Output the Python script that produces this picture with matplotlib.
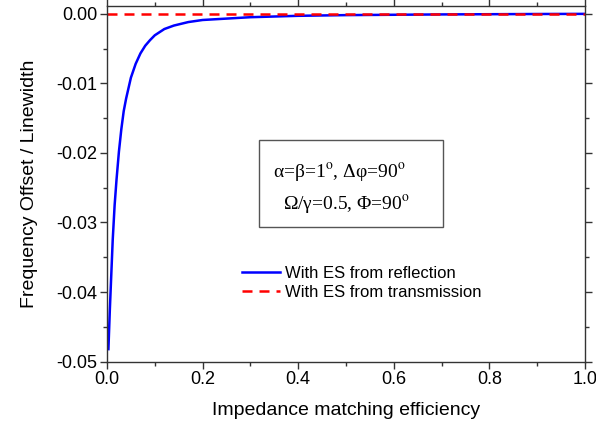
import matplotlib.pyplot as plt
from matplotlib.patches import Rectangle
from matplotlib.ticker import MultipleLocator, FuncFormatter

plt.rcParams['font.family'] = ['Liberation Sans', 'DejaVu Sans']
plt.rcParams['mathtext.fontset'] = 'stix'

# valores
eta = [0.003, 0.006, 0.009, 0.012, 0.016, 0.020, 0.025, 0.030, 0.035, 0.040,
       0.050, 0.060, 0.070, 0.080, 0.090, 0.100, 0.120, 0.140, 0.170, 0.200,
       0.250, 0.300, 0.400, 0.500, 0.600, 0.700, 0.800, 0.900, 1.000]
refl = [-0.0482, -0.0425, -0.0375, -0.0325, -0.0275, -0.0238, -0.0198, -0.0166,
        -0.0140, -0.0122, -0.0092, -0.0072, -0.0057, -0.0046, -0.0038, -0.0031,
        -0.0022, -0.0017, -0.0012, -0.0009, -0.0007, -0.0005, -0.0003, -0.0002,
        -0.00015, -0.0001, -0.00007, -0.00004, -0.00002]
trans_x = [0.0, 1.0]
trans_y = [0.0, 0.0]

fig = plt.figure(figsize=(5.96, 4.28), dpi=100)
ax = fig.add_axes([0.1795, 0.155, 0.802, 0.830])

ax.plot(eta, refl, color='blue', lw=1.8, label='With ES from reflection')
ax.plot(trans_x, trans_y, color='red', lw=1.8, dashes=(4.0, 2.8),
        label='With ES from transmission')

ax.set_xlim(0, 1.0)
ax.set_ylim(-0.05, 0.00105)
ax.xaxis.set_major_locator(MultipleLocator(0.2))
ax.xaxis.set_minor_locator(MultipleLocator(0.1))
ax.yaxis.set_major_locator(MultipleLocator(0.01))
ax.yaxis.set_minor_locator(MultipleLocator(0.005))
ax.xaxis.set_major_formatter(FuncFormatter(lambda v, p: '%.1f' % (v + 0.0)))
ax.yaxis.set_major_formatter(FuncFormatter(lambda v, p: '%.2f' % (0.0 if abs(v) < 1e-9 else v)))
ax.tick_params(which='both', direction='out', labelsize=13, width=1.0, color='#333333', pad=2)
ax.tick_params(which='major', length=5)
ax.tick_params(which='minor', length=3)
ax.tick_params(which='both', top=True, right=True)
for s in ax.spines.values():
    s.set_linewidth(1.0)
    s.set_color('#333333')

ax.set_xlabel('Impedance matching efficiency', fontsize=14, labelpad=10)
ax.set_ylabel('Frequency Offset / Linewidth', fontsize=14, labelpad=13)

# caixa com parametros
ax.add_patch(Rectangle((0.318, 0.380), 0.385, 0.244, transform=ax.transAxes,
                       fill=False, edgecolor='#555555', lw=1.0))
ax.text(0.487, 0.531, r'α=β=1$^{\rm o}$, Δφ=90$^{\rm o}$', transform=ax.transAxes,
        ha='center', va='center', fontsize=14, family=['Liberation Serif', 'DejaVu Serif'])
ax.text(0.501, 0.441, r'Ω/γ=0.5, Φ=90$^{\rm o}$', transform=ax.transAxes,
        ha='center', va='center', fontsize=14, family=['Liberation Serif', 'DejaVu Serif'])

ax.legend(loc='upper left', bbox_to_anchor=(0.282, 0.27), frameon=False,
          fontsize=12, handlelength=2.3, handletextpad=0.3, labelspacing=0.25,
          borderpad=0, borderaxespad=0)

fig.savefig('out.png', dpi=100)
